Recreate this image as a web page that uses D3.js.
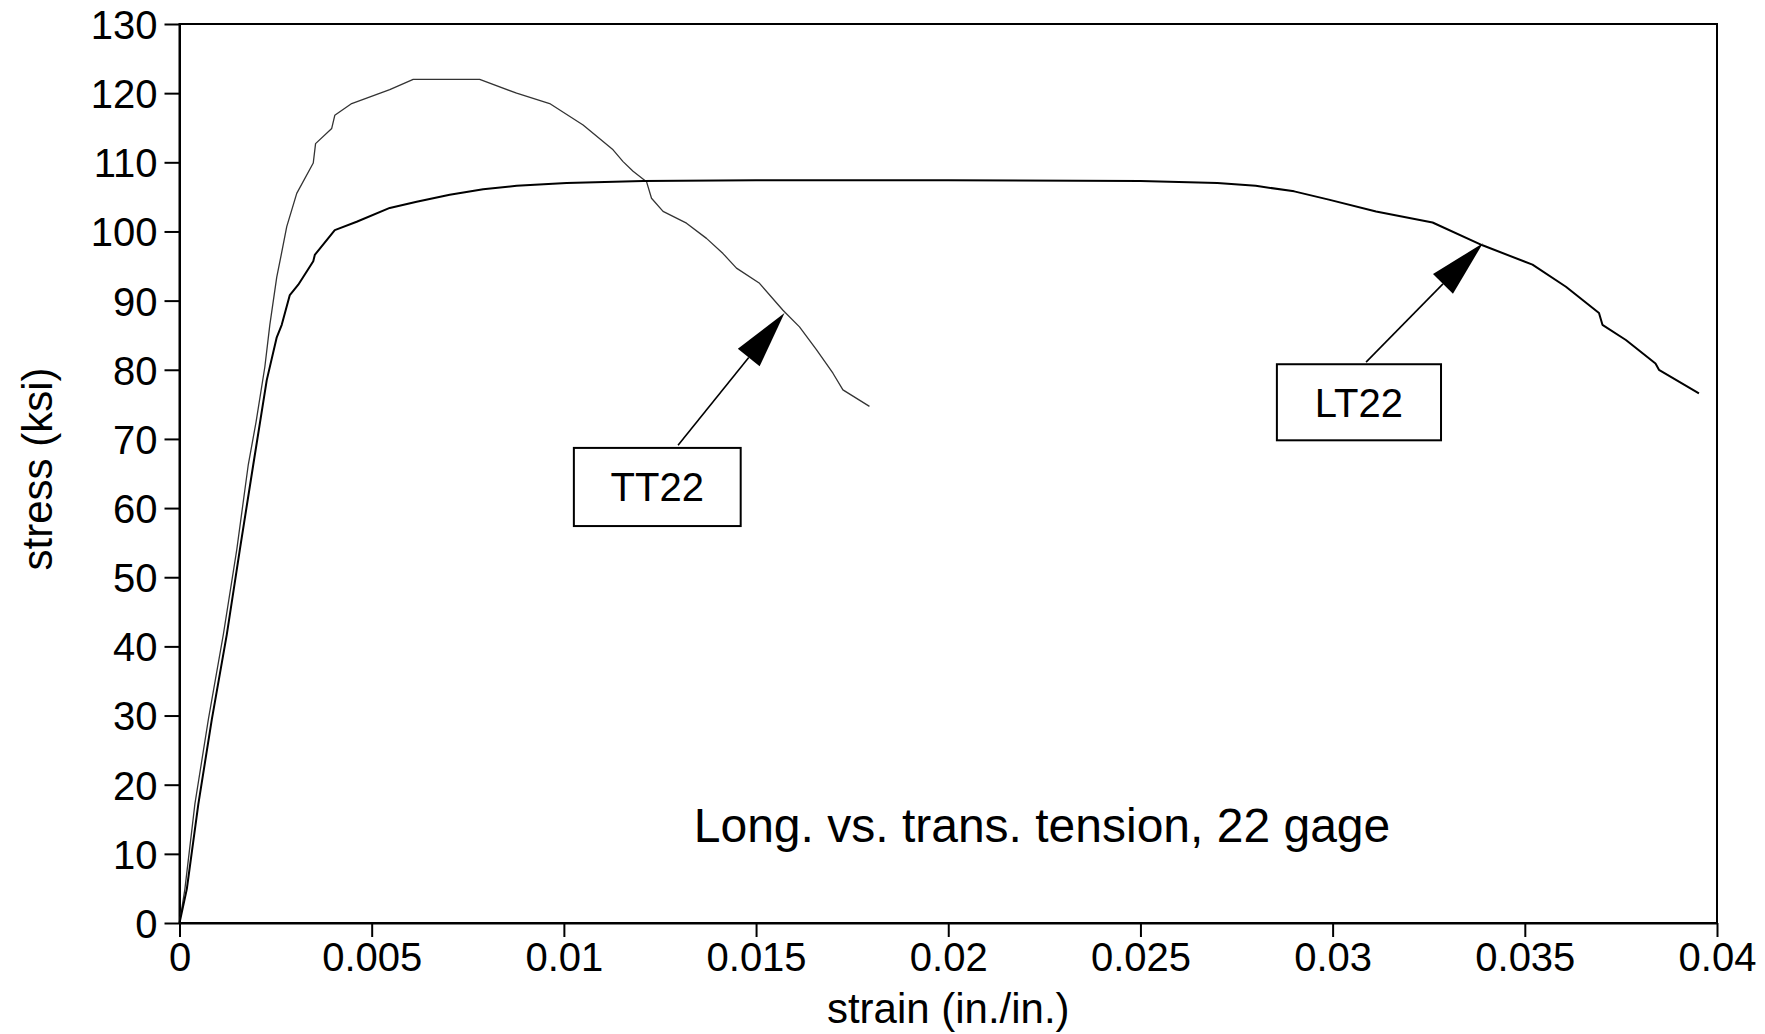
<!DOCTYPE html>
<html>
<head>
<meta charset="utf-8">
<script src="https://cdn.jsdelivr.net/npm/d3@7"></script>
<style>
  html, body { margin: 0; padding: 0; background: #fff; }
  svg { display: block; }
  text { font-family: "Liberation Sans", Arial, Helvetica, sans-serif; fill: #000; }
</style>
</head>
<body>
<svg id="chart" width="1765" height="1034"></svg>
<script>
// ---- data ----
const tt22Strain = [0, 0.00014, 0.0004, 0.00075, 0.00114, 0.00149, 0.00179, 0.00199, 0.00222, 0.00235, 0.00253, 0.00266, 0.00279, 0.00305, 0.00348, 0.00354, 0.00396, 0.00404, 0.00448, 0.00547, 0.00608, 0.0070, 0.00781, 0.00877, 0.00963, 0.0105, 0.01128, 0.01154, 0.0118, 0.01215, 0.01228, 0.01258, 0.01319, 0.01371, 0.01414, 0.01449, 0.01509, 0.0157, 0.01613, 0.01657, 0.017, 0.01726, 0.01795];
const tt22Stress = [0, 4.9, 17.2, 29.4, 41.7, 54.0, 66.3, 72.4, 80.4, 86.5, 93.4, 97.0, 100.7, 105.5, 109.9, 112.7, 114.9, 116.8, 118.5, 120.5, 122.0, 122.0, 122.0, 120.0, 118.5, 115.4, 111.8, 110.1, 108.7, 107.2, 104.8, 102.9, 101.2, 99.0, 96.8, 94.7, 92.5, 88.6, 86.2, 82.9, 79.5, 77.1, 74.7];

const lt22Strain = [0, 0.00019, 0.00049, 0.00084, 0.00123, 0.00157, 0.00192, 0.00227, 0.00253, 0.00266, 0.00287, 0.00309, 0.00348, 0.00352, 0.00404, 0.00461, 0.00547, 0.00617, 0.00703, 0.0079, 0.00877, 0.01007, 0.01206, 0.015, 0.02, 0.025, 0.027, 0.028, 0.029, 0.0299, 0.03113, 0.0326, 0.0339, 0.0352, 0.03607, 0.03693, 0.03702, 0.03763, 0.0384, 0.03849, 0.03953];
const lt22Stress = [0, 4.9, 17.2, 29.4, 41.7, 54.0, 66.3, 78.5, 84.7, 86.5, 90.8, 92.3, 95.7, 96.6, 100.2, 101.4, 103.4, 104.3, 105.3, 106.1, 106.6, 107.0, 107.3, 107.4, 107.4, 107.3, 107.0, 106.6, 105.8, 104.6, 102.9, 101.3, 98.0, 95.2, 92.0, 88.2, 86.5, 84.3, 80.9, 80.0, 76.6];

const xTicks = [0, 0.005, 0.01, 0.015, 0.02, 0.025, 0.03, 0.035, 0.04];
const xTickLabels = ["0", "0.005", "0.01", "0.015", "0.02", "0.025", "0.03", "0.035", "0.04"];
const yTicks = [0, 10, 20, 30, 40, 50, 60, 70, 80, 90, 100, 110, 120, 130];
const yTickLabels = ["0", "10", "20", "30", "40", "50", "60", "70", "80", "90", "100", "110", "120", "130"];

const seriesNames = ["TT22", "LT22"];
const xTitle = "strain (in./in.)";
const yTitle = "stress (ksi)";
const noteText = "Long. vs. trans. tension, 22 gage";

// annotation anchors (data units): label box, line start, arrow tip
const labelBoxes = [
  { name: "TT22", x0: 0.01026, x1: 0.01460, y0: 68.7, y1: 57.4, sx: 0.01297, sy: 69.1, tx: 0.01574, ty: 88.2 },
  { name: "LT22", x0: 0.02855, x1: 0.03282, y0: 80.8, y1: 69.8, sx: 0.03087, sy: 81.1, tx: 0.03391, ty: 98.3 }
];

// ---- layout ----
const L = 179.5, R = 1717, T = 24, B = 923;
const svg = d3.select("#chart");
const x = d3.scaleLinear().domain([0, 0.04]).range([L, R]);
const y = d3.scaleLinear().domain([0, 130]).range([B, T]);

// frame
svg.append("rect").attr("x", L).attr("y", T).attr("width", R - L).attr("height", B - T)
  .attr("fill", "none").attr("stroke", "#000").attr("stroke-width", 2);

// axes
const xAxis = d3.axisBottom(x).tickValues(xTicks).tickFormat((d, i) => xTickLabels[i])
  .tickSizeInner(14).tickSizeOuter(0).tickPadding(6);
const gx = svg.append("g").attr("transform", `translate(0,${B})`).call(xAxis);
gx.select(".domain").attr("stroke-width", 2);
gx.selectAll(".tick line").attr("stroke-width", 2);
gx.selectAll(".tick text").style("font-size", "40px").attr("font-family", null);

const yAxis = d3.axisLeft(y).tickValues(yTicks).tickFormat((d, i) => yTickLabels[i])
  .tickSizeInner(15).tickSizeOuter(0).tickPadding(7);
const gy = svg.append("g").attr("transform", `translate(${L},0)`).call(yAxis);
gy.select(".domain").attr("stroke-width", 2);
gy.selectAll(".tick line").attr("stroke-width", 2);
gy.selectAll(".tick text").style("font-size", "40px").attr("dy", "0.36em").attr("font-family", null);

// titles
svg.append("text").attr("x", (L + R) / 2).attr("y", 1023).attr("text-anchor", "middle")
  .style("font-size", "42px").text(xTitle);
svg.append("text").attr("transform", `translate(52,469) rotate(-90)`).attr("text-anchor", "middle")
  .style("font-size", "42px").text(yTitle);

// curves
const line = d3.line().x(d => x(d[0])).y(d => y(d[1]));
const tt = tt22Strain.map((s, i) => [s, tt22Stress[i]]);
const lt = lt22Strain.map((s, i) => [s, lt22Stress[i]]);
svg.append("path").datum(tt).attr("d", line).attr("fill", "none")
  .attr("stroke", "#333").attr("stroke-width", 1.3).attr("stroke-linejoin", "round");
svg.append("path").datum(lt).attr("d", line).attr("fill", "none")
  .attr("stroke", "#000").attr("stroke-width", 2).attr("stroke-linejoin", "round");

// note
svg.append("text").attr("x", 1042).attr("y", 842).attr("text-anchor", "middle")
  .style("font-size", "48px").text(noteText);

// label boxes with arrows
labelBoxes.forEach(b => {
  const bx = x(b.x0), by = y(b.y0), bw = x(b.x1) - x(b.x0), bh = y(b.y1) - y(b.y0);
  svg.append("rect").attr("x", bx).attr("y", by).attr("width", bw).attr("height", bh)
    .attr("fill", "#fff").attr("stroke", "#000").attr("stroke-width", 2);
  svg.append("text").attr("x", bx + bw / 2).attr("y", by + bh / 2).attr("dy", "0.36em")
    .attr("text-anchor", "middle").style("font-size", "40px").text(b.name);
  const sx = x(b.sx), sy = y(b.sy), tx = x(b.tx), ty = y(b.ty);
  const dx = tx - sx, dy = ty - sy, len = Math.hypot(dx, dy);
  const ux = dx / len, uy = dy / len, px = -uy, py = ux;
  const hl = 57, hw = 14;
  const bxm = tx - ux * hl, bym = ty - uy * hl;
  svg.append("line").attr("x1", sx).attr("y1", sy).attr("x2", bxm).attr("y2", bym)
    .attr("stroke", "#000").attr("stroke-width", 1.6);
  svg.append("path").attr("d", `M${tx},${ty}L${bxm + px * hw},${bym + py * hw}L${bxm - px * hw},${bym - py * hw}Z`)
    .attr("fill", "#000");
});
</script>
</body>
</html>
